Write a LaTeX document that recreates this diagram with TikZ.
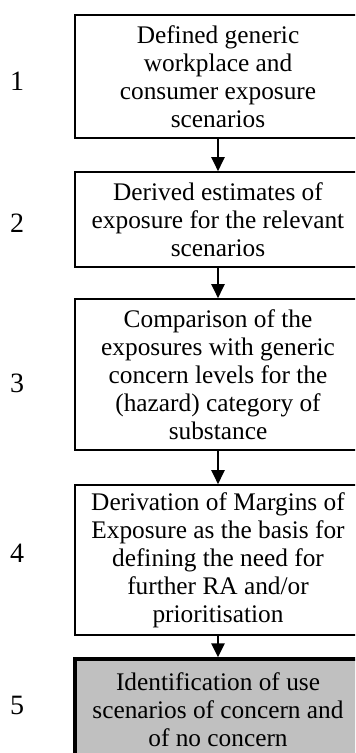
\documentclass[tikz,border=0pt]{standalone}
\usepackage{fontspec}
\setmainfont{Liberation Serif}
\usetikzlibrary{arrows.meta}
\definecolor{outcomegray}{HTML}{C0C0C0}
\tikzset{
  stepbox/.style={draw, line width=1.35pt, minimum width=214.5pt, align=center,
    inner sep=0pt, font=\fontsize{19}{21}\selectfont},
  stepnum/.style={font=\fontsize{21}{21}\selectfont, inner sep=0pt},
  flow/.style={line width=1.35pt, -{Triangle[width=10pt,length=10.5pt]}}
}
\begin{document}
\begin{tikzpicture}[x=0.75pt,y=-0.75pt]
  \useasboundingbox (0,0) rectangle (355,753);
  \clip (0,0) rectangle (355,753);
  % process steps
  \node[stepbox, minimum height=92.25pt] (s1) at (218,76.5)
    {Defined generic\\workplace and\\consumer exposure\\scenarios};
  \node[stepbox, minimum height=71.25pt] (s2) at (218,219.5)
    {Derived estimates of\\exposure for the relevant\\scenarios};
  \node[stepbox, minimum height=113.25pt] (s3) at (218,374.5)
    {Comparison of the\\exposures with generic\\concern levels for the\\(hazard) category of\\substance};
  \node[stepbox, minimum height=112.5pt] (s4) at (218,560)
    {Derivation of Margins of\\Exposure as the basis for\\defining the need for\\further RA and/or\\prioritisation};
  \node[stepbox, line width=2.6pt, fill=outcomegray, minimum height=76.5pt] (s5) at (218,710)
    {Identification of use\\scenarios of concern and\\of no concern};
  % step numbers
  \node[stepnum] (n1) at (17,81) {1};
  \node[stepnum] (n2) at (17,223) {2};
  \node[stepnum] (n3) at (17,383) {3};
  \node[stepnum] (n4) at (17,553) {4};
  \node[stepnum] (n5) at (17,705) {5};
  % connectors
  \draw[flow] (s1.south) -- (s2.north);
  \draw[flow] (s2.south) -- (s3.north);
  \draw[flow] (s3.south) -- (s4.north);
  \draw[flow] (s4.south) -- (s5.north);
\end{tikzpicture}
\end{document}
